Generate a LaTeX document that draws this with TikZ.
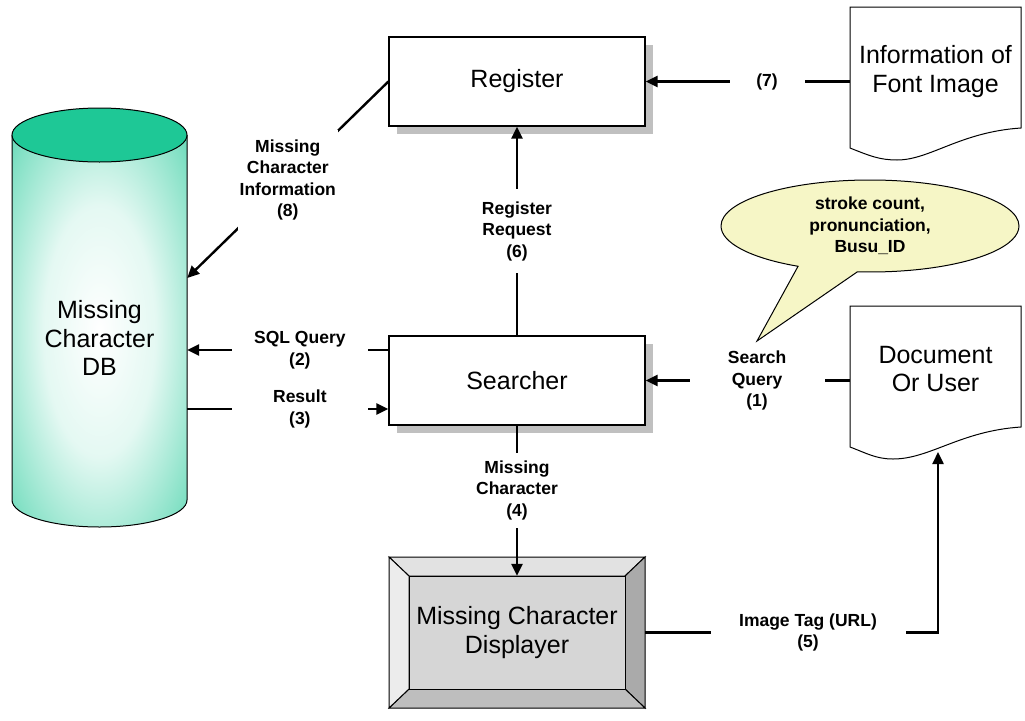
\documentclass[tikz,border=0pt]{standalone}
\usepackage{fontspec}
\setmainfont{Liberation Sans}
\usetikzlibrary{arrows.meta,shapes.callouts,shadows}
\definecolor{dbgreen}{RGB}{30,200,150}
\definecolor{bubble}{RGB}{246,246,198}
\definecolor{shadowgray}{RGB}{192,192,192}
\definecolor{bevtop}{RGB}{226,226,226}
\definecolor{bevleft}{RGB}{236,236,236}
\definecolor{bevright}{RGB}{170,170,170}
\definecolor{bevbottom}{RGB}{190,190,190}
\definecolor{bevinner}{RGB}{214,214,214}
\pgfdeclareradialshading{dbshade}{\pgfpoint{0bp}{0bp}}{color(0bp)=(white); color(16bp)=(white!88!dbgreen); color(32bp)=(dbgreen!55!white); color(45bp)=(dbgreen); color(100bp)=(dbgreen)}
\newcommand\BigLbl{\fontsize{25}{28.5}\selectfont}
\newcommand\SmLbl{\fontsize{17.5}{21.5}\selectfont\bfseries}
\begin{document}
\begin{tikzpicture}[x=1pt,y=-1pt,
  conn/.style={line width=2.4pt,black},
  arr/.style={-{Triangle[length=12pt,width=11pt]}},
  lbl/.style={fill=white,inner sep=0pt,align=center,font=\SmLbl},
  big/.style={align=center,font=\BigLbl,inner sep=0pt},
  procbox/.style={draw,line width=1.2pt,fill=white,minimum width=256pt,minimum height=89pt,font=\BigLbl,
    drop shadow={shadow xshift=8pt,shadow yshift=-8pt,fill=shadowgray,opacity=1}},
  docshape/.style={draw,line width=1pt,fill=white}]
\useasboundingbox (0,0) rectangle (1025,720);
\fill[white] (0,0) rectangle (1025,720);

% database cylinder
\path[shading=dbshade] (12,135) -- (12,500)
  .. controls (12,514.9) and (51.2,527) .. (99.5,527)
  .. controls (147.8,527) and (187,514.9) .. (187,500) -- (187,135) -- cycle;
\draw[line width=1pt] (12,135) -- (12,500)
  .. controls (12,514.9) and (51.2,527) .. (99.5,527)
  .. controls (147.8,527) and (187,514.9) .. (187,500) -- (187,135);
\draw[line width=1pt,fill=dbgreen] (99.5,135) ellipse[x radius=87.5,y radius=27];
\node[big,minimum width=175pt] (db) at (99.5,338) {Missing\\Character\\DB};

% process boxes
\node[procbox] (reg) at (517,81.5) {Register};
\node[procbox] (sea) at (517,380.5) {Searcher};

% displayer (bevelled)
\draw[line width=1pt,fill=bevtop] (389,557) -- (645,557) -- (625,576) -- (409,576) -- cycle;
\draw[line width=1pt,fill=bevright] (645,557) -- (645,708) -- (625,689) -- (625,576) -- cycle;
\draw[line width=1pt,fill=bevbottom] (645,708) -- (389,708) -- (409,689) -- (625,689) -- cycle;
\draw[line width=1pt,fill=bevleft] (389,708) -- (389,557) -- (409,576) -- (409,689) -- cycle;
\draw[line width=1pt,fill=bevinner] (409,576) rectangle (625,689);
\node[big,minimum width=256pt,minimum height=151pt] (disp) at (517,632.5) {Missing Character\\Displayer};

% document shapes
\draw[docshape] (850,7) -- (1021,7) -- (1021,128)
  .. controls (960,132) and (930,160) .. (897,160)
  .. controls (880,160) and (870,156) .. (850,148) -- cycle;
\node[big,minimum width=171pt] (info) at (935.5,71.5) {Information of\\Font Image};
\draw[docshape] (850,306) -- (1021,306) -- (1021,427)
  .. controls (960,431) and (930,459) .. (893,459)
  .. controls (876,459) and (866,453) .. (850,447) -- cycle;
\node[big,minimum width=171pt] (doc) at (935.5,369) {Document\\Or User};
\coordinate (docb) at (938,452);

% connectors
\draw[conn,arr] (info.west |- reg.east) -- (reg.east)
  node[pos=0.405,lbl,minimum width=75pt] {(7)};
\draw[conn,arr] (reg.west) -- ([yshift=60pt]db.east)
  node[midway,lbl,minimum width=100pt,minimum height=100pt] {Missing\\Character\\Information\\(8)};
\draw[conn,arr] (sea.north) -- (reg.south)
  node[midway,lbl,minimum height=84pt,minimum width=90pt] {Register\\Request\\(6)};
\coordinate (sqlS) at ([yshift=30.5pt]sea.west);
\coordinate (resS) at ([yshift=-28.5pt]sea.west);
\draw[conn,arr] (sqlS) -- (sqlS -| db.east)
  node[pos=0.44,lbl,minimum width=136pt] {SQL Query\\(2)};
\draw[conn,arr] (resS -| db.east) -- (resS)
  node[pos=0.56,lbl,minimum width=136pt] {Result\\(3)};
\draw[conn,arr] (doc.west |- sea.east) -- (sea.east)
  node[pos=0.454,lbl,minimum width=135pt] {Search\\Query\\(1)};
\draw[conn,arr] (sea.south) -- ([yshift=-19pt]disp.north)
  node[pos=0.43,lbl,minimum height=75pt,minimum width=100pt] {Missing\\Character\\(4)};
\draw[conn,arr] (disp.east) -| (docb)
  node[pos=0.278,lbl,minimum width=195pt] {Image Tag (URL)\\(5)};

% callout
\node[ellipse callout,draw,line width=1pt,fill=bubble,minimum width=298pt,minimum height=92pt,
  inner sep=0pt,align=center,font=\SmLbl,callout absolute pointer={(757,341)},callout pointer arc=24]
  (bub) at (870,226) {stroke count,\\pronunciation,\\Busu\_ID};
\end{tikzpicture}
\end{document}
